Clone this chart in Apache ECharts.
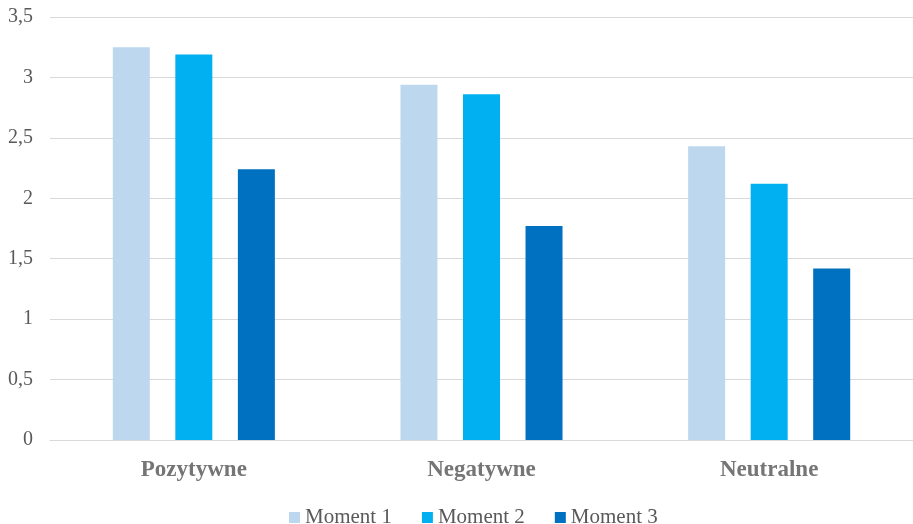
<!DOCTYPE html>
<html>
<head>
<meta charset="utf-8">
<script src="https://cdn.jsdelivr.net/npm/echarts@6/dist/echarts.min.js"></script>
<style>
  html, body { margin: 0; padding: 0; background: #fff; }
  #chart { width: 913px; height: 524px; }
</style>
</head>
<body>
<div id="chart"></div>
<script>
// Categories and series values
const categories = ['Pozytywne', 'Negatywne', 'Neutralne'];
const seriesNames = ['Moment 1', 'Moment 2', 'Moment 3'];
const moment1 = [3.25, 2.94, 2.43];
const moment2 = [3.19, 2.86, 2.12];
const moment3 = [2.24, 1.77, 1.42];
const colors = ['#BDD7EE', '#00B0F0', '#0070C0'];

const serif = '"Liberation Serif", "Times New Roman", serif';
const values = [moment1, moment2, moment3];

const chart = echarts.init(document.getElementById('chart'));
chart.setOption({
  animation: false,
  grid: { left: 50, width: 867, top: 17, height: 423, containLabel: false },
  legend: {
    top: 502,
    left: 284,
    itemWidth: 11,
    itemHeight: 11,
    itemGap: 30,
    icon: 'rect',
    textStyle: { fontFamily: serif, fontSize: 21, color: '#595959' },
    data: seriesNames
  },
  xAxis: {
    type: 'category',
    data: categories,
    axisTick: { show: false },
    axisLine: { lineStyle: { color: '#d9d9d9', width: 1 } },
    axisLabel: {
      margin: 19,
      fontFamily: serif,
      fontSize: 23,
      fontWeight: 'bold',
      color: '#757575'
    }
  },
  yAxis: {
    type: 'value',
    min: 0,
    max: 3.5,
    interval: 0.5,
    axisLine: { show: false },
    axisTick: { show: false },
    splitLine: { lineStyle: { color: '#d9d9d9', width: 1 } },
    axisLabel: {
      margin: 17,
      fontFamily: serif,
      fontSize: 20,
      color: '#595959',
      formatter: v => String(v).replace('.', ',')
    }
  },
  series: seriesNames.map((name, i) => ({
    name,
    type: 'bar',
    data: values[i],
    barWidth: 37,
    barGap: '69%',
    itemStyle: { color: colors[i] }
  }))
});
</script>
</body>
</html>
